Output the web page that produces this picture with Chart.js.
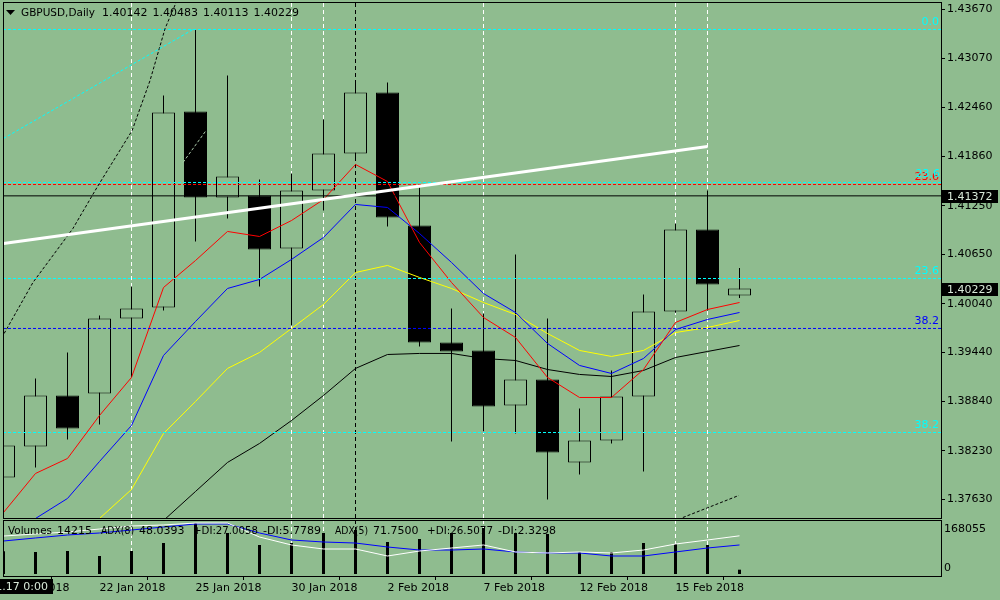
<!DOCTYPE html>
<html>
<head>
<meta charset="utf-8">
<script src="https://cdn.jsdelivr.net/npm/chart.js@4.4.1/dist/chart.umd.min.js"></script>
<style>
html, body { margin: 0; padding: 0; background: #8fbc8f; overflow: hidden; }
#wrap { position: relative; width: 1000px; height: 600px; }
#main { position: absolute; left: 0; top: 0; }
#sub { position: absolute; left: 0; top: 519px; }
</style>
</head>
<body>
<div id="wrap">
  <canvas id="main" width="1000" height="519"></canvas>
  <canvas id="sub" width="1000" height="81"></canvas>
</div>
<script>
// daily bars, GBPUSD
var dates = ['17 Jan 2018','18 Jan 2018','19 Jan 2018','22 Jan 2018','23 Jan 2018','24 Jan 2018','25 Jan 2018','26 Jan 2018',
  '29 Jan 2018','30 Jan 2018','31 Jan 2018','1 Feb 2018','2 Feb 2018','5 Feb 2018','6 Feb 2018','7 Feb 2018',
  '8 Feb 2018','9 Feb 2018','12 Feb 2018','13 Feb 2018','14 Feb 2018','15 Feb 2018','16 Feb 2018','19 Feb 2018'];
var opens  = [1.37899,1.38282,1.38911,1.38935,1.39860,1.39996,1.42412,1.41352,1.41377,1.40723,1.41438,1.41894,
  1.42647,1.41007,1.39564,1.39466,1.38787,1.39108,1.38084,1.38356,1.38898,1.39946,1.40957,1.40142];
var highs  = [1.38356,1.39120,1.39441,1.39897,1.40255,1.42610,1.43425,1.42856,1.41574,1.41648,1.42314,1.42795,
  1.42770,1.41475,1.39983,1.39922,1.40649,1.39860,1.38750,1.39219,1.40156,1.41031,1.41438,1.40483];
var lows   = [1.37838,1.38023,1.38368,1.38553,1.39133,1.39959,1.40809,1.41093,1.40255,1.39774,1.41192,1.41808,
  1.40994,1.39515,1.38343,1.38467,1.38442,1.37628,1.37936,1.38319,1.37973,1.39930,1.39959,1.40113];
var closes = [1.38294,1.38911,1.38504,1.39860,1.39983,1.42400,1.41352,1.41611,1.40711,1.41438,1.41894,1.42647,
  1.41105,1.39564,1.39453,1.38775,1.39108,1.38208,1.38356,1.38898,1.39946,1.40957,1.40279,1.40229];

// moving averages
var maRed    = [1.37468,1.37949,1.38134,1.38664,1.39133,1.40242,1.40575,1.40933,1.40871,1.41068,1.41327,1.41759,
  1.41549,1.40797,1.40304,1.39872,1.39626,1.39133,1.38886,1.38886,1.39231,1.39811,1.39971,1.40057];
var maBlue   = [1.37184,1.37394,1.37641,1.38097,1.38541,1.39404,1.39823,1.40230,1.40341,1.40588,1.40859,1.41266,
  1.41229,1.40908,1.40551,1.40168,1.39934,1.39552,1.39281,1.39182,1.39367,1.39724,1.39848,1.39934];
var maYellow = [null,null,1.36999,1.37394,1.37752,1.38442,1.38837,1.39244,1.39441,1.39737,1.40033,1.40427,
  1.40514,1.40366,1.40230,1.40057,1.39909,1.39675,1.39466,1.39392,1.39466,1.39687,1.39749,1.39835];
var maBlack  = [null,null,null,null,1.36999,1.37369,1.37727,1.38085,1.38319,1.38602,1.38911,1.39244,
  1.39416,1.39429,1.39429,1.39367,1.39342,1.39231,1.39170,1.39145,1.39219,1.39379,1.39453,1.39527];

// sub window
var volumes = [75000,72490,75785,59310,75785,102145,168055,135095,95555,102145,135095,144980,
  105440,115325,135095,151570,135095,131800,72490,72490,102145,98850,95555,14215];
var adxWhite = [71.4,75.0,78.6,83.9,89.3,91.1,94.6,94.6,69.6,55.4,48.2,48.2,35.7,44.6,50.0,55.4,
  42.9,41.1,42.9,41.1,46.4,57.1,64.3,71.75];
var adxBlue  = [62.5,67.9,73.2,76.8,82.1,87.5,92.9,92.9,76.8,64.3,60.7,58.9,51.8,46.4,46.4,48.2,
  42.9,41.1,41.1,35.7,35.7,42.9,50.0,55.4];

// axis ticks and objects
var priceTicks = [1.43670,1.43070,1.42460,1.41860,1.41250,1.40650,1.40040,1.39440,1.38840,1.38230,1.37630];
var dateTicks = [0,3,6,9,12,15,18,21];
var fibLevels = [1.43423,1.41537,1.41512,1.40353,1.39737,1.38454];
var fibNames  = ['0.0','23.6','23.6','23.6','38.2','38.2'];
var fibColors = ['#00ffff','#00ffff','#ff0000','#00ffff','#0000ff','#00ffff'];
var hLinePrice = 1.41372;
var trendWhite = [[0,1.40785],[22,1.41981]];
var trendCyan  = [[0,1.42080],[5.92,1.43423]];
var arcBlack   = [[0.02,1.39675],[0.92,1.40304],[2.17,1.40970],[2.92,1.41475],[4.02,1.42178],[4.58,1.42795],[5.05,1.43436],[5.42,1.43781]];
var arcBlack2  = [[21.23,1.37406],[22.98,1.37678]];
var faintLine  = [[5.61,1.41784],[6.33,1.42178]];
var vWhite = [4,9,10,15,21,22];
var vBlack = [11];

var BG = '#8fbc8f';
var FONT = 'DejaVu Sans';
Chart.defaults.font.family = FONT;
Chart.defaults.font.size = 11;
Chart.defaults.color = '#000';

var xMin = -1 / 64;
var xMax = 938 / 32 - 1 / 64;

function pts(arr) {
  return arr.map(function (v, i) { return { x: i, y: v }; });
}
function pairs(arr) {
  return arr.map(function (p) { return { x: p[0], y: p[1] }; });
}
function lineDs(data, color, width, dash, order) {
  return { type: 'line', data: data, borderColor: color, borderWidth: width, borderDash: dash || [],
    pointRadius: 0, tension: 0, fill: false, order: order, spanGaps: false };
}
function noPad(s) {
  s.paddingTop = 0; s.paddingBottom = 0; s.paddingLeft = 0; s.paddingRight = 0;
}

var vLines = {
  id: 'vLines',
  beforeDatasetsDraw: function (chart) {
    var ctx = chart.ctx, a = chart.chartArea, xs = chart.scales.x;
    ctx.save();
    ctx.lineWidth = 1;
    ctx.setLineDash([4, 3]);
    function draw(list, color) {
      ctx.strokeStyle = color;
      list.forEach(function (i) {
        var x = xs.getPixelForValue(i);
        ctx.beginPath(); ctx.moveTo(x, a.top); ctx.lineTo(x, a.bottom); ctx.stroke();
      });
    }
    draw(vWhite, '#ffffff');
    draw(vBlack, '#000000');
    ctx.restore();
  }
};

var bodies = [], wicks = [], bodyColors = [];
for (var i = 0; i < opens.length; i++) {
  wicks.push({ x: i, y: [lows[i], highs[i]] });
  bodies.push({ x: i, y: [opens[i], closes[i]] });
  bodyColors.push(closes[i] >= opens[i] ? BG : '#000000');
}

var levelSets = fibLevels.map(function (v, k) {
  return lineDs([{ x: xMin, y: v }, { x: xMax, y: v }], fibColors[k], 1, [3, 2], 5);
});

var mainDecor = {
  id: 'mainDecor',
  afterDatasetsDraw: function (chart) {
    var ctx = chart.ctx, a = chart.chartArea, ys = chart.scales.y;
    ctx.save();
    ctx.font = '11px ' + FONT;
    ctx.textAlign = 'right';
    ctx.textBaseline = 'middle';
    fibLevels.forEach(function (v, k) {
      if (k === 1) return;
      ctx.fillStyle = fibColors[k];
      ctx.fillText(fibNames[k], a.right - 2, ys.getPixelForValue(v) - 7);
    });
    ctx.fillStyle = fibColors[1];
    ctx.fillText(fibNames[1], a.right - 1, ys.getPixelForValue(fibLevels[1]) - 8);
    ctx.restore();
  },
  afterDraw: function (chart) {
    var ctx = chart.ctx, ys = chart.scales.y;
    ctx.save();
    ctx.strokeStyle = '#000';
    ctx.lineWidth = 1;
    ctx.strokeRect(3.5, 2.5, 938, 516);
    // header
    ctx.fillStyle = '#000';
    ctx.beginPath(); ctx.moveTo(6, 10); ctx.lineTo(15, 10); ctx.lineTo(10.5, 15); ctx.closePath(); ctx.fill();
    ctx.font = '11px ' + FONT;
    ctx.textBaseline = 'middle';
    ctx.textAlign = 'left';
    var n = opens.length - 1;
    ctx.fillText('GBPUSD,Daily', 21, 13, 74);
    [opens[n], highs[n], lows[n], closes[n]].forEach(function (v, k) {
      ctx.fillText(v.toFixed(5), 102 + k * 50.5, 13);
    });
    // price tags
    [hLinePrice, closes[n]].forEach(function (v) {
      var y = Math.round(ys.getPixelForValue(v));
      ctx.fillStyle = '#000';
      ctx.fillRect(942, y - 6, 56, 13);
      ctx.fillStyle = '#d8e8d8';
      ctx.fillText(v.toFixed(5), 947, y + 1);
    });
    ctx.restore();
  }
};

new Chart(document.getElementById('main'), {
  type: 'bar',
  data: {
    datasets: [
      { type: 'bar', data: wicks, backgroundColor: '#000', borderWidth: 0, barThickness: 1,
        grouped: false, inflateAmount: 0, order: 30 },
      { type: 'bar', data: bodies, backgroundColor: bodyColors, borderColor: '#000', borderWidth: 1,
        borderSkipped: false, barThickness: 23, grouped: false, inflateAmount: 0, order: 29 },
      lineDs(pts(maBlack), '#000000', 1, null, 12),
      lineDs(pts(maYellow), '#ffff00', 1, null, 11),
      lineDs(pts(maBlue), '#0000ff', 1, null, 10),
      lineDs(pts(maRed), '#ff0000', 1, null, 9),
      lineDs([{ x: xMin, y: hLinePrice }, { x: xMax, y: hLinePrice }], '#000000', 1, null, 6),
      lineDs(pairs(trendCyan), '#00ffff', 1, [3, 2], 4),
      lineDs(pairs(arcBlack), '#000000', 1, [3, 2], 4),
      lineDs(pairs(arcBlack2), '#000000', 1, [3, 2], 4),
      lineDs(pairs(faintLine), '#a8c8a8', 1, [3, 2], 4),
      lineDs(pairs(trendWhite), '#ffffff', 3, null, 1)
    ].concat(levelSets)
  },
  options: {
    responsive: false,
    animation: false,
    devicePixelRatio: 1,
    layout: { padding: { left: 3, top: 3, right: 0, bottom: 1 } },
    plugins: { legend: { display: false }, tooltip: { enabled: false } },
    scales: {
      x: { type: 'linear', min: xMin, max: xMax, offset: false, display: false },
      y: {
        position: 'right', min: 1.37400, max: 1.43750,
        afterFit: function (s) { s.width = 59; noPad(s); },
        afterBuildTicks: function (s) { s.ticks = priceTicks.map(function (v) { return { value: v }; }); },
        ticks: { callback: function (v) { return v.toFixed(5); }, padding: 2, font: { size: 11 } },
        grid: { drawOnChartArea: false, drawTicks: true, tickLength: 4, color: '#000' },
        border: { display: false }
      }
    }
  },
  plugins: [vLines, mainDecor]
});

var subDecor = {
  id: 'subDecor',
  afterDraw: function (chart) {
    var ctx = chart.ctx, ys = chart.scales.y;
    ctx.save();
    ctx.strokeStyle = '#000';
    ctx.lineWidth = 1;
    ctx.strokeRect(3.5, 1.5, 938, 56);
    ctx.font = '11px ' + FONT;
    ctx.fillStyle = '#000';
    ctx.textBaseline = 'middle';
    ctx.textAlign = 'left';
    var n = volumes.length - 1;
    var parts = [['Volumes', 8], [String(volumes[n]), 57], ['ADX(8)', 101], ['48.0393', 139],
      ['+DI:27.0058', 193], ['-DI:5.7789', 263], ['ADX(5)', 335], [adxWhite[n].toFixed(4), 373],
      ['+DI:26.5077', 427], ['-DI:2.3298', 498]];
    parts.forEach(function (p, k) {
      var next = k < parts.length - 1 ? parts[k + 1][1] : 566;
      ctx.fillText(p[0], p[1], 12, next - p[1] - 5);
    });
    var vmax = Math.max.apply(null, volumes);
    ctx.fillText(String(vmax), 944, ys.getPixelForValue(vmax) + 6);
    ctx.fillText('0', 944, ys.getPixelForValue(0) - 6);
    // date box
    ctx.fillStyle = '#000';
    ctx.fillRect(0, 60, 53, 15);
    ctx.fillStyle = '#d8e8d8';
    ctx.textAlign = 'right';
    ctx.fillText('2018.01.17 0:00', 48, 68);
    ctx.restore();
  }
};

new Chart(document.getElementById('sub'), {
  type: 'bar',
  data: {
    datasets: [
      { type: 'bar', data: pts(volumes), backgroundColor: '#000', borderWidth: 0, barThickness: 3,
        grouped: false, inflateAmount: 0, yAxisID: 'y', order: 10 },
      Object.assign(lineDs(pts(adxBlue), '#0000ff', 1, null, 2), { yAxisID: 'yA' }),
      Object.assign(lineDs(pts(adxWhite), '#ffffff', 1, null, 1), { yAxisID: 'yA' })
    ]
  },
  options: {
    responsive: false,
    animation: false,
    devicePixelRatio: 1,
    layout: { padding: { left: 3, top: 1, right: 0, bottom: 0 } },
    plugins: { legend: { display: false }, tooltip: { enabled: false } },
    scales: {
      x: {
        type: 'linear', min: xMin, max: xMax, offset: false, position: 'bottom',
        afterFit: function (s) { s.height = 24; noPad(s); },
        afterBuildTicks: function (s) { s.ticks = dateTicks.map(function (v) { return { value: v }; }); },
        ticks: { autoSkip: false, maxRotation: 0, align: 'start', padding: 2,
          callback: function (v) { return dates[v]; } },
        grid: { drawOnChartArea: false, drawTicks: true, tickLength: 4, color: '#000' },
        border: { display: false }
      },
      y: {
        position: 'right', min: -6590, max: 177940,
        afterFit: function (s) { s.width = 59; noPad(s); },
        ticks: { display: false },
        grid: { display: false },
        border: { display: false }
      },
      yA: { display: false, min: 0, max: 100 }
    }
  },
  plugins: [vLines, subDecor]
});
</script>
</body>
</html>
